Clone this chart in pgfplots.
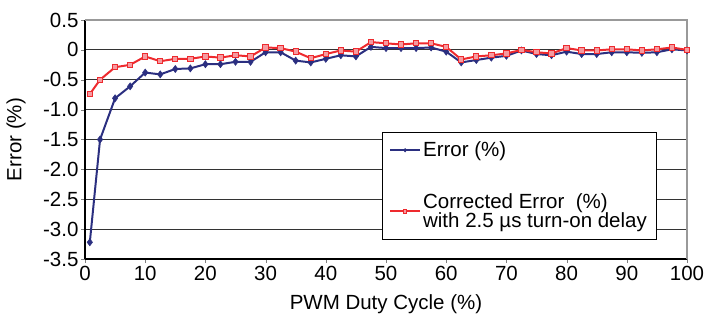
\documentclass[border=0pt]{standalone}
\usepackage{pgfplots}
\pgfplotsset{compat=1.18}
\usepackage{fontspec}
\setmainfont{Liberation Sans}
\definecolor{navy}{HTML}{2B2F80}
\definecolor{cred}{HTML}{EE2A2E}
\definecolor{pinkf}{HTML}{F59AA0}
\newcommand{\ff}{\fontsize{20.5bp}{20.5bp}\selectfont}
\begin{document}
\begin{tikzpicture}
\begin{axis}[
  scale only axis,
  width=602bp, height=239bp,
  xmin=0, xmax=100, ymin=-3.5, ymax=0.5,
  xtick={0,10,...,100},
  ytick={-3.5,-3,-2.5,-2,-1.5,-1,-0.5,0,0.5},
  yticklabels={-3.5,-3.0,-2.5,-2.0,-1.5,-1.0,-0.5,0,0.5},
  xticklabel style={font=\ff, yshift=0bp},
  yticklabel style={font=\ff, xshift=1bp},
  /pgf/number format/assume math mode=true,
  tick align=outside, tick pos=left,
  major tick length=4bp,
  ymajorgrids, grid style={black!80, line width=0.9pt},
  axis line style={line width=1.1pt},
  axis x line*=bottom, axis y line*=left,
  xlabel={PWM Duty Cycle (\%)}, ylabel={Error (\%)},
  label style={font=\ff},
  xlabel style={at={(axis description cs:0.5,-0.1904)}, anchor=center},
  ylabel style={at={(axis description cs:-0.1146,0.5)}, anchor=center},
  clip=false,
  legend cell align=left,
  legend image code/.code={\draw[mark repeat=2,mark phase=2,#1, mark size=1.8pt] plot coordinates {(0bp,0bp)(15bp,0bp)(30bp,0bp)};},
  legend style={at={(axis cs:49.3,-1.37)}, anchor=north west,
    draw=black, line width=0.7pt, font=\fontsize{20.5bp}{19.5bp}\selectfont,
    nodes={align=left, inner sep=2bp}, row sep=31bp,
    inner xsep=7bp, inner ysep=8bp},
]
\draw[black!40, line width=1.6pt] (axis cs:0,0.5) -- (axis cs:100,0.5) -- (axis cs:100,-3.5);
\addplot[navy, line width=2pt, mark=diamond*, mark size=3.6pt, mark options={fill=navy, line width=0.5pt}] coordinates {
(0.8,-3.22)(2.5,-1.5)(5,-0.81)(7.5,-0.61)(10,-0.38)(12.5,-0.41)(15,-0.32)(17.5,-0.31)
(20,-0.24)(22.5,-0.24)(25,-0.2)(27.5,-0.2)(30,-0.04)(32.5,-0.04)(35,-0.18)(37.5,-0.21)
(40,-0.15)(42.5,-0.09)(45,-0.11)(47.5,0.05)(50,0.03)(52.5,0.03)(55,0.03)(57.5,0.04)
(60,-0.03)(62.5,-0.21)(65,-0.17)(67.5,-0.13)(70,-0.1)(72.5,-0.01)(75,-0.07)(77.5,-0.09)
(80,-0.03)(82.5,-0.07)(85,-0.07)(87.5,-0.04)(90,-0.04)(92.5,-0.05)(95,-0.04)(97.5,0.01)(100,-0.01)
};
\addlegendentry{Error (\%)}
\addplot[cred, line width=2pt, mark=square*, mark size=2.7pt, mark options={fill=pinkf, draw=cred, line width=1pt}] coordinates {
(0.8,-0.74)(2.5,-0.5)(5,-0.29)(7.5,-0.25)(10,-0.11)(12.5,-0.19)(15,-0.15)(17.5,-0.15)
(20,-0.11)(22.5,-0.13)(25,-0.09)(27.5,-0.11)(30,0.04)(32.5,0.03)(35,-0.03)(37.5,-0.14)
(40,-0.07)(42.5,-0.01)(45,-0.03)(47.5,0.13)(50,0.11)(52.5,0.09)(55,0.11)(57.5,0.11)
(60,0.05)(62.5,-0.16)(65,-0.11)(67.5,-0.09)(70,-0.06)(72.5,0.0)(75,-0.04)(77.5,-0.06)
(80,0.03)(82.5,-0.01)(85,-0.01)(87.5,0.01)(90,0.01)(92.5,-0.01)(95,0.01)(97.5,0.04)(100,0)
};
\addlegendentry{Corrected Error~~(\%)\\with 2.5 µs turn-on delay\hspace{18bp}}
\end{axis}
\pgfresetboundingbox
\path (current axis.south west) ++(-85bp,-57bp) rectangle ++(704bp,316bp);
\end{tikzpicture}
\end{document}
